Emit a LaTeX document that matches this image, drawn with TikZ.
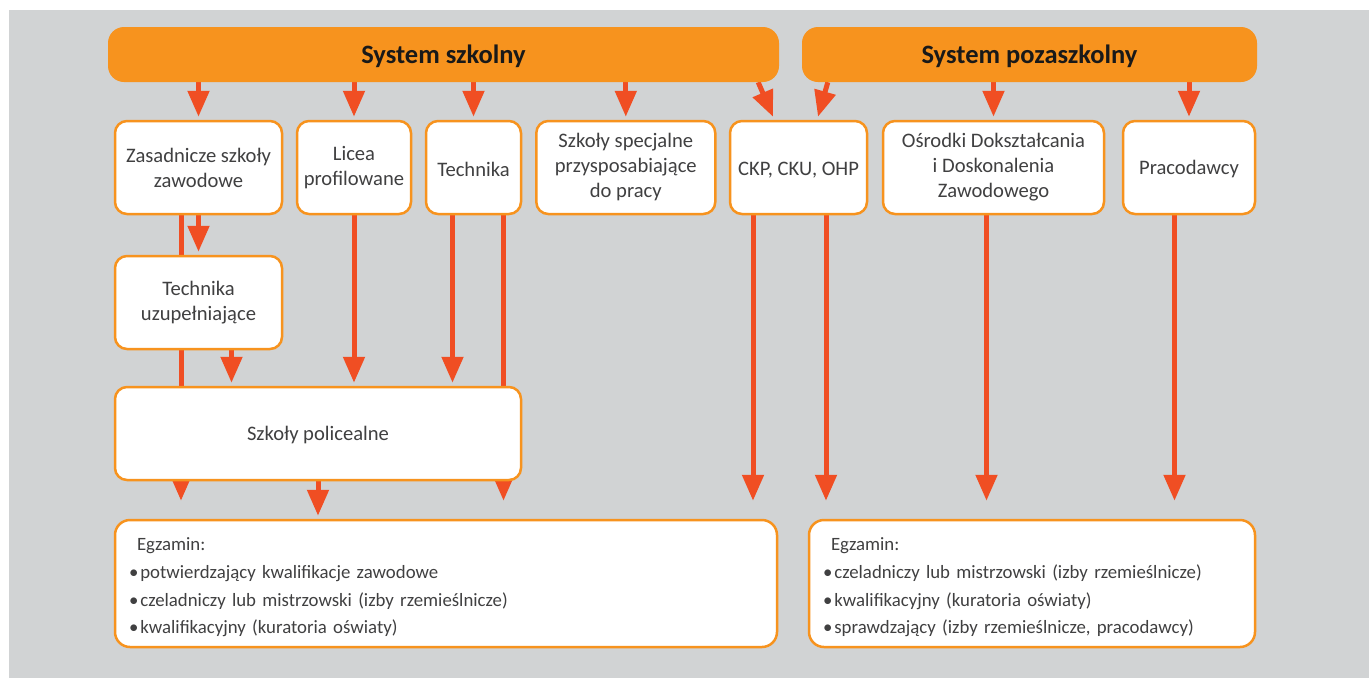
\documentclass[tikz,border=0pt]{standalone}
\usepackage{fontspec}
\setmainfont{Carlito}
\usetikzlibrary{arrows.meta}
\definecolor{bgray}{HTML}{D1D3D4}
\definecolor{orng}{HTML}{F7931E}
\definecolor{arrred}{HTML}{F04E23}
\definecolor{txt}{HTML}{404041}
\pgfdeclarelayer{back}
\pgfdeclarelayer{links}
\pgfsetlayers{back,links,main}
\tikzset{
  banner/.style={fill=orng, rounded corners=16pt, minimum height=55pt, inner sep=0pt,
    text depth=0pt, font=\fontsize{26.5}{30}\selectfont\bfseries, text=black!90},
  unit/.style={draw=orng, line width=2.5pt, fill=white, rounded corners=12pt,
    minimum height=93pt, inner sep=0pt, align=center,
    font=\fontsize{20.6}{25}\selectfont, text=txt,
    execute at begin node=\rule{0pt}{18pt}},
  exam/.style={draw=orng, line width=2.5pt, fill=white, rounded corners=15pt,
    minimum height=127pt, inner xsep=14pt, inner ysep=0pt, align=left,
    font=\fontsize{18.8}{27.7}\selectfont, text=txt,
    execute at begin node=\rule{0pt}{21pt}},
  arr/.style={draw=arrred, line width=5pt, -{Triangle[length=26pt,width=21pt]}}
}
\begin{document}
\begin{tikzpicture}[x=1pt,y=-1pt]
\useasboundingbox (0,0) rectangle (1369,678);

\node (sys1) at (443.5,54.5) [banner, minimum width=671pt] {System szkolny};
\node (sys2) at (1029.5,54.5) [banner, minimum width=455pt] {System pozaszkolny};

\node (zsz) at (198.5,167.5) [unit, minimum width=167pt] {Zasadnicze szkoły\\zawodowe};
\node (lic) at (354,167.5) [unit, minimum width=114pt] {Licea\\profilowane};
\node (tech) at (473.5,167.5) [unit, minimum width=95pt] {Technika};
\node (spec) at (625.8,167.5) [unit, minimum width=179pt] {Szkoły specjalne\\przysposabiające\\do pracy};
\node (ckp) at (798.5,167.5) [unit, minimum width=137pt] {CKP, CKU, OHP};
\node (odz) at (993.5,167.5) [unit, minimum width=221pt] {Ośrodki Dokształcania\\i Doskonalenia\\Zawodowego};
\node (prac) at (1189,167.5) [unit, minimum width=132pt] {Pracodawcy};

\node (tuz) at (198.5,302.5) [unit, minimum width=167pt] {Technika\\uzupełniające};
\node (pol) at (318,433.5) [unit, minimum width=406pt] {Szkoły policealne};

\node (ex1) at (446,583.5) [exam, text width=634pt] {\hspace*{8pt}Egzamin:\\
  •\hspace{2pt}potwierdzający kwalifikacje zawodowe\\
  •\hspace{2pt}czeladniczy lub mistrzowski (izby rzemieślnicze)\\
  •\hspace{2pt}kwalifikacyjny (kuratoria oświaty)};
\node (ex2) at (1032,583.5) [exam, text width=418pt] {\hspace*{8pt}Egzamin:\\
  •\hspace{2pt}czeladniczy lub mistrzowski (izby rzemieślnicze)\\
  •\hspace{2pt}kwalifikacyjny (kuratoria oświaty)\\
  •\hspace{2pt}sprawdzający (izby rzemieślnicze, pracodawcy)};
\coordinate (stop) at ([yshift=18pt]ex1.north);

\begin{pgfonlayer}{links}
\draw[arr] (zsz.north |- sys1.south) -- ([yshift=3pt]zsz.north);
\draw[arr] (lic.north |- sys1.south) -- ([yshift=3pt]lic.north);
\draw[arr] (tech.north |- sys1.south) -- ([yshift=3pt]tech.north);
\draw[arr] (spec.north |- sys1.south) -- ([yshift=3pt]spec.north);
\draw[arr] ([xshift=-21pt]sys1.south east) -- ([xshift=-25.5pt,yshift=3pt]ckp.north);
\draw[arr] ([xshift=26pt]sys2.south west) -- ([xshift=19.5pt,yshift=3pt]ckp.north);
\draw[arr] (odz.north |- sys2.south) -- ([yshift=3pt]odz.north);
\draw[arr] (prac.north |- sys2.south) -- ([yshift=3pt]prac.north);

\draw[arr] (zsz.south) -- ([yshift=3pt]tuz.north);
\draw[arr] ([xshift=-17.5pt]zsz.south) -- ([xshift=-17.5pt]zsz.south |- stop);
\draw[arr] ([xshift=33pt]tuz.south) -- ([xshift=33pt,yshift=3pt]tuz.south |- pol.north);
\draw[arr] (lic.south) -- ([yshift=3pt]lic.south |- pol.north);
\draw[arr] ([xshift=-21pt]tech.south) -- ([xshift=-21pt,yshift=3pt]tech.south |- pol.north);
\draw[arr] ([xshift=30pt]tech.south) -- ([xshift=30pt]tech.south |- stop);
\draw[arr] (pol.south) -- ([yshift=3pt]pol.south |- ex1.north);

\draw[arr] ([xshift=-45.5pt]ckp.south) -- ([xshift=-45.5pt]ckp.south |- stop);
\draw[arr] ([xshift=27.5pt]ckp.south) -- ([xshift=27.5pt]ckp.south |- stop);
\draw[arr] ([xshift=-7pt]odz.south) -- ([xshift=-7pt]odz.south |- stop);
\draw[arr] ([xshift=-14.5pt]prac.south) -- ([xshift=-14.5pt]prac.south |- stop);
\end{pgfonlayer}

\begin{pgfonlayer}{back}
\fill[white] (0,0) rectangle (1369,678);
\fill[bgray] (9,10) rectangle (1369,678);
\end{pgfonlayer}
\end{tikzpicture}
\end{document}
